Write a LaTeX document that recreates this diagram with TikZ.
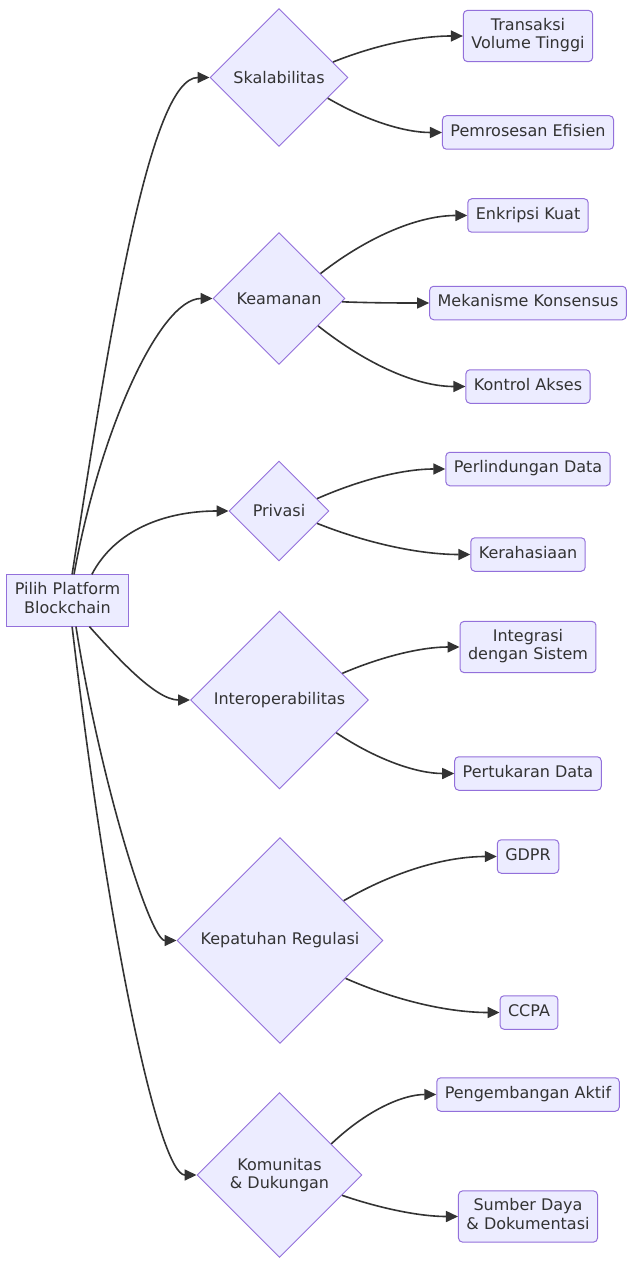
\documentclass[tikz,border=0pt]{standalone}
\usepackage{fontspec}
\setmainfont{DejaVu Sans}
\usetikzlibrary{shapes.geometric, arrows.meta}
\definecolor{lav}{HTML}{ECECFF}
\definecolor{purp}{HTML}{9370DB}
\definecolor{ink}{HTML}{333333}

\begin{document}
\begin{tikzpicture}[
  x=1pt, y=-1pt,
  every node/.style={font=\fontsize{16}{18.5}\selectfont, text=ink},
  start/.style={rectangle, draw=purp, fill=lav, line width=1pt, align=center,
    inner xsep=8pt, inner ysep=7.5pt,
    execute at begin node=\strut, execute at end node=\strut},
  leaf/.style={start, rounded corners=4pt},
  decision/.style={diamond, aspect=1, draw=purp, fill=lav, line width=0.9pt,
    inner sep=0pt, align=center},
  arrow/.style={-{Triangle[length=12pt, width=11pt]}, line width=1.6pt, draw=ink}
]
\useasboundingbox (0,0) rectangle (640,1281);

\node (root) [start] at (67.5,600.5) {Pilih Platform\\Blockchain};

\node (skal) [decision, minimum size=138pt] at (279,77.5) {Skalabilitas};
\node (aman) [decision, minimum size=132pt] at (279,298.5) {Keamanan};
\node (privasi) [decision, minimum size=100pt] at (279,511) {Privasi};
\node (interop) [decision, minimum size=178pt] at (279.5,700) {Interoperabilitas};
\node (regulasi) [decision, minimum size=206pt] at (280,940.5) {Kepatuhan Regulasi};
\node (komunitas) [decision, minimum size=165pt] at (279.5,1175) {Komunitas\\\& Dukungan};

\node (transaksi) [leaf] at (528,36) {Transaksi\\Volume Tinggi};
\node (proses) [leaf] at (528,132.5) {Pemrosesan Efisien};
\node (enkripsi) [leaf] at (528,215.5) {Enkripsi Kuat};
\node (konsensus) [leaf] at (528,303) {Mekanisme Konsensus};
\node (akses) [leaf] at (528,386.5) {Kontrol Akses};
\node (lindung) [leaf] at (528,469) {Perlindungan Data};
\node (rahasia) [leaf] at (528,554.5) {Kerahasiaan};
\node (integrasi) [leaf] at (528,647) {Integrasi\\dengan Sistem};
\node (tukar) [leaf] at (528,773.5) {Pertukaran Data};
\node (gdpr) [leaf] at (528,856.5) {GDPR};
\node (ccpa) [leaf] at (529,1012.5) {CCPA};
\node (kembang) [leaf] at (528,1094.5) {Pengembangan Aktif};
\node (sumber) [leaf] at (528,1216.5) {Sumber Daya\\\& Dokumentasi};

% root to the six criteria
\draw [arrow] (root.80) .. controls (110,330) and (150,77.5) .. (skal.west);
\draw [arrow] (root.76) .. controls (100,430) and (160,298.5) .. (aman.west);
\draw [arrow] (root.47) .. controls (115,530) and (165,511) .. (privasi.west);
\draw [arrow] (root.-50) .. controls (115,655) and (155,700) .. (interop.west);
\draw [arrow] (root.-72) .. controls (100,780) and (150,940.5) .. (regulasi.west);
\draw [arrow] (root.-80) .. controls (110,950) and (160,1175) .. (komunitas.west);

% criteria to details
\draw [arrow] (skal.16) .. controls (378,44) and (421,36) .. (transaksi.west);
\draw [arrow] (skal.-23) .. controls (367,121) and (405,132.5) .. (proses.west);
\draw [arrow] (aman.31) .. controls (370,235) and (420,215.5) .. (enkripsi.west);
\draw [arrow] (aman.-3) .. controls (373,303) and (402,303) .. (konsensus.west);
\draw [arrow] (aman.-35) .. controls (369,366) and (418,386.5) .. (akses.west);
\draw [arrow] (privasi.18) .. controls (362,479) and (404,469) .. (lindung.west);
\draw [arrow] (privasi.-18) .. controls (369,544) and (421,554.5) .. (rahasia.west);
\draw [arrow] (interop.23) .. controls (383,656) and (422,647) .. (integrasi.west);
\draw [arrow] (interop.-30) .. controls (377,760) and (417,773.5) .. (tukar.west);
\draw [arrow] (regulasi.32) .. controls (395,871) and (446,856.5) .. (gdpr.west);
\draw [arrow] (regulasi.-30) .. controls (397,1001) and (449,1012.5) .. (ccpa.west);
\draw [arrow] (komunitas.31) .. controls (367,1110) and (403,1094.5) .. (kembang.west);
\draw [arrow] (komunitas.-18) .. controls (382,1209) and (421,1216.5) .. (sumber.west);

\end{tikzpicture}
\end{document}
